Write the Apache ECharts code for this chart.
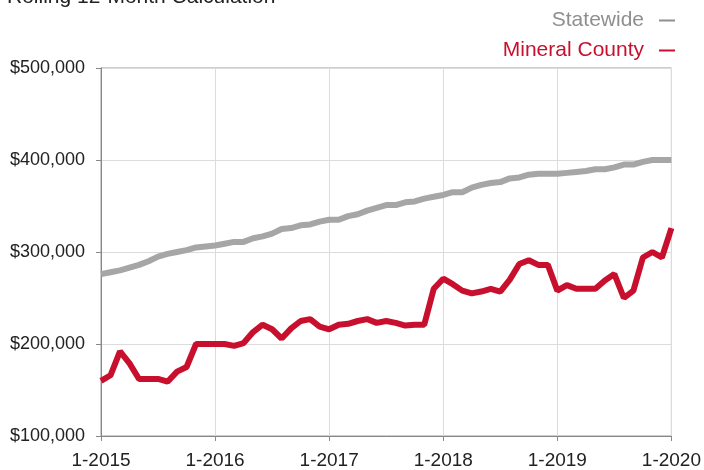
<!DOCTYPE html>
<html>
<head>
<meta charset="utf-8">
<script src="https://cdn.jsdelivr.net/npm/echarts@6/dist/echarts.min.js"></script>
<style>
  html, body { margin: 0; padding: 0; background: #fff; }
  #main { width: 704px; height: 470px; }
</style>
</head>
<body>
<div id="main"></div>
<script>
// month labels 1-2015 .. 1-2020
var years = [2015, 2016, 2017, 2018, 2019];
var months = [];
years.forEach(function (y) {
  for (var m = 1; m <= 12; m++) months.push(m + '-' + y);
});
months.push('1-2020');

var statewide = [
  276000, 278000, 280000, 283000, 286000, 290000, 295000, 298000, 300000, 302000, 305000, 306000,
  307000, 309000, 311000, 311000, 315000, 317000, 320000, 325000, 326000, 329000, 330000, 333000,
  335000, 335000, 339000, 341000, 345000, 348000, 351000, 351000, 354000, 355000, 358000, 360000,
  362000, 365000, 365000, 370000, 373000, 375000, 376000, 380000, 381000, 384000, 385000, 385000,
  385000, 386000, 387000, 388000, 390000, 390000, 392000, 395000, 395000, 398000, 400000, 400000,
  400000
];

var mineral = [
  160000, 166000, 192000, 179000, 162000, 162000, 162000, 159000, 170000, 175000, 200000, 200000,
  200000, 200000, 198000, 201000, 213000, 221000, 216000, 206000, 217000, 225000, 227000, 219000,
  216000, 221000, 222000, 225000, 227000, 223000, 225000, 223000, 220000, 221000, 221000, 260000,
  271000, 265000, 258000, 255000, 257000, 260000, 257000, 270000, 287000, 291000, 286000, 286000,
  258000, 264000, 260000, 260000, 260000, 269000, 276000, 250000, 258000, 294000, 300000, 294000,
  326000
];

var yTicks = { min: 100000, max: 500000, step: 100000 };

var chart = echarts.init(document.getElementById('main'), null, { renderer: 'canvas' });

var font = 'Liberation Sans, Arial, sans-serif';

var option = {
  animation: false,
  textStyle: { fontFamily: font },
  graphic: [{
    type: 'text',
    x: 7,
    y: -13,
    style: {
      text: 'Rolling 12-Month Calculation',
      fontSize: 21,
      fontFamily: font,
      fill: '#222'
    }
  }],
  legend: {
    orient: 'vertical',
    right: 24,
    top: 5,
    align: 'right',
    itemGap: 9,
    itemWidth: 16,
    itemHeight: 2,
    icon: 'rect',
    textStyle: { fontSize: 21, padding: [0, 10, 0, 0] },
    data: [
      { name: 'Statewide', textStyle: { color: '#8f8f8f' }, itemStyle: { color: '#8f8f8f' } },
      { name: 'Mineral County', textStyle: { color: '#c8102e' }, itemStyle: { color: '#c8102e' } }
    ]
  },
  grid: {
    left: 101,
    right: 32,
    top: 68,
    bottom: 32,
    show: true,
    borderColor: '#9a9a9a',
    borderWidth: 1
  },
  xAxis: {
    type: 'category',
    boundaryGap: false,
    data: months,
    axisLine: { lineStyle: { color: '#888' } },
    axisTick: { show: true, interval: 11, length: 5, lineStyle: { color: '#888' } },
    axisLabel: { interval: 11, color: '#222', fontSize: 19, margin: 15 },
    splitLine: { show: true, interval: 11, lineStyle: { color: '#dcdcdc' } }
  },
  yAxis: {
    type: 'value',
    min: yTicks.min,
    max: yTicks.max,
    interval: yTicks.step,
    axisLine: { show: true, lineStyle: { color: '#888' } },
    axisTick: { show: true, length: 5, lineStyle: { color: '#888' } },
    axisLabel: {
      color: '#222',
      fontSize: 18,
      margin: 16,
      formatter: function (v) { return '$' + v.toLocaleString('en-US'); }
    },
    splitLine: { lineStyle: { color: '#dcdcdc' } }
  },
  series: [
    {
      name: 'Statewide',
      type: 'line',
      data: statewide,
      showSymbol: false,
      lineStyle: { color: '#a6a6a6', width: 6 },
      itemStyle: { color: '#a6a6a6' }
    },
    {
      name: 'Mineral County',
      type: 'line',
      data: mineral,
      showSymbol: false,
      lineStyle: { color: '#c8102e', width: 6 },
      itemStyle: { color: '#c8102e' }
    }
  ]
};

chart.setOption(option);
</script>
</body>
</html>
